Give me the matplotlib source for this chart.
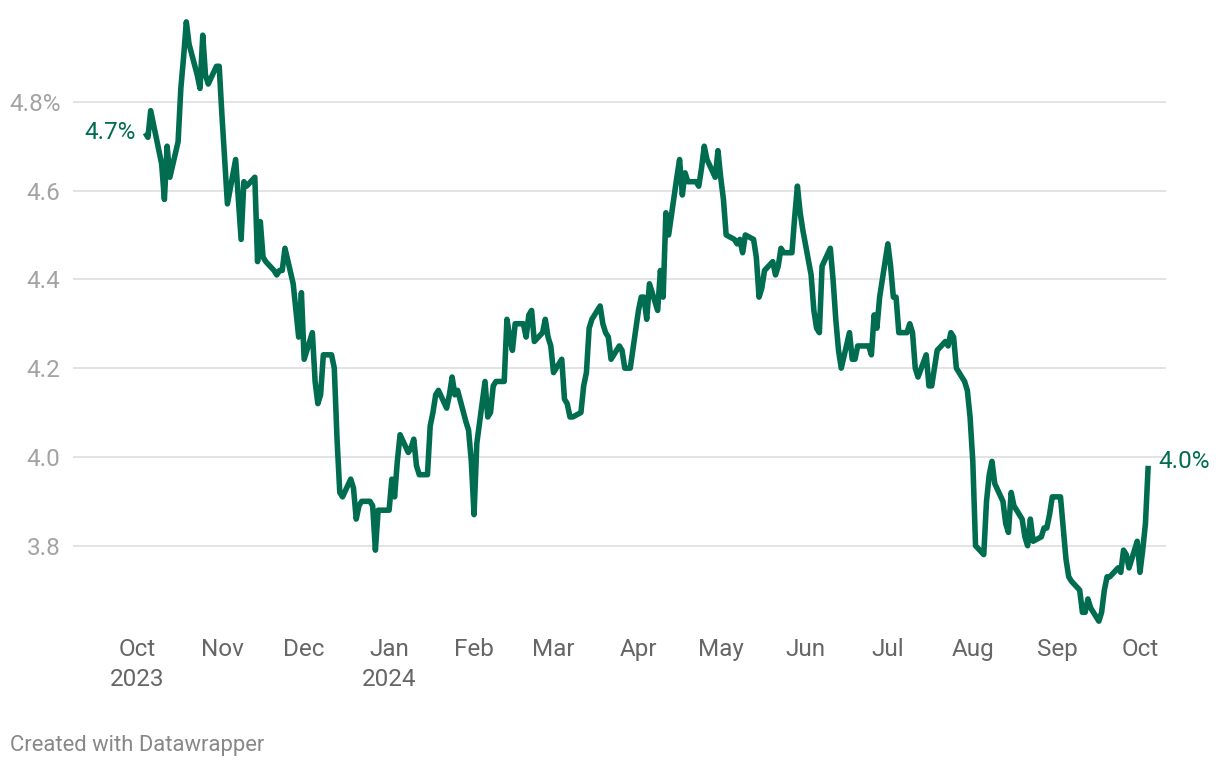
import matplotlib
matplotlib.use("Agg")
import matplotlib.pyplot as plt
import matplotlib.dates as mdates
import pandas as pd

# 10-year yield, weekday closes (holidays carry the prior value)
oct23 = [4.73, 4.72, 4.78, 4.66, 4.58, 4.70, 4.63, 4.71, 4.83, 4.90, 4.98, 4.93,
         4.86, 4.83, 4.95, 4.86, 4.84, 4.88, 4.88]
nov23 = [4.77, 4.67, 4.57, 4.67, 4.58, 4.49, 4.62, 4.61, 4.63, 4.44, 4.53, 4.45,
         4.44, 4.42, 4.41, 4.42, 4.42, 4.47, 4.39, 4.33, 4.27, 4.37]
dec23 = [4.22, 4.28, 4.17, 4.12, 4.14, 4.23, 4.23, 4.20, 4.04, 3.92, 3.91, 3.95,
         3.93, 3.86, 3.89, 3.90, 3.90, 3.89, 3.79, 3.88, 3.88]
jan24 = [3.88, 3.95, 3.91, 3.99, 4.05, 4.01, 4.02, 4.04, 3.98, 3.96, 3.96, 4.07,
         4.10, 4.14, 4.15, 4.11, 4.14, 4.18, 4.14, 4.15, 4.08, 4.06, 3.99]
feb24 = [3.87, 4.03, 4.17, 4.09, 4.10, 4.16, 4.17, 4.17, 4.31, 4.27, 4.24, 4.30,
         4.30, 4.27, 4.32, 4.33, 4.26, 4.28, 4.31, 4.27, 4.25]
mar24 = [4.19, 4.22, 4.13, 4.12, 4.09, 4.09, 4.10, 4.16, 4.19, 4.29, 4.31, 4.34,
         4.30, 4.28, 4.27, 4.22, 4.25, 4.24, 4.20, 4.20, 4.20]
apr24 = [4.33, 4.36, 4.36, 4.31, 4.39, 4.33, 4.42, 4.36, 4.55, 4.50, 4.63, 4.67,
         4.59, 4.64, 4.62, 4.62, 4.61, 4.65, 4.70, 4.67, 4.63, 4.69]
may24 = [4.63, 4.58, 4.50, 4.49, 4.48, 4.49, 4.46, 4.50, 4.49, 4.45, 4.36, 4.38,
         4.42, 4.44, 4.41, 4.43, 4.47, 4.46, 4.46, 4.54, 4.61, 4.55, 4.51]
jun24 = [4.41, 4.33, 4.29, 4.28, 4.43, 4.47, 4.40, 4.31, 4.24, 4.20, 4.28, 4.22,
         4.22, 4.25, 4.25, 4.25, 4.23, 4.32, 4.29, 4.36]
jul24 = [4.48, 4.43, 4.36, 4.36, 4.28, 4.28, 4.30, 4.28, 4.20, 4.18, 4.23, 4.16,
         4.16, 4.20, 4.24, 4.26, 4.25, 4.28, 4.27, 4.20, 4.17, 4.15, 4.09]
aug24 = [3.99, 3.80, 3.78, 3.90, 3.96, 3.99, 3.94, 3.90, 3.85, 3.83, 3.92, 3.89,
         3.86, 3.82, 3.80, 3.86, 3.81, 3.82, 3.84, 3.84, 3.87, 3.91]
sep24 = [3.91, 3.84, 3.77, 3.73, 3.72, 3.70, 3.65, 3.65, 3.68, 3.66, 3.63, 3.65,
         3.70, 3.73, 3.73, 3.75, 3.74, 3.79, 3.78, 3.75, 3.81]
oct24 = [3.74, 3.79, 3.85, 3.98]

values = oct23 + nov23 + dec23 + jan24 + feb24 + mar24 + apr24 + may24 + jun24 + jul24 + aug24 + sep24 + oct24
dates = pd.bdate_range("2023-10-04", "2024-10-04")
dates = dates[dates != pd.Timestamp("2023-10-09")]
assert len(dates) == len(values), (len(dates), len(values))

month_ticks = pd.date_range("2023-10-01", "2024-10-01", freq="MS")
month_labels = ["Oct\n2023", "Nov", "Dec", "Jan\n2024", "Feb", "Mar", "Apr", "May",
                "Jun", "Jul", "Aug", "Sep", "Oct"]
y_ticks = [3.8, 4.0, 4.2, 4.4, 4.6, 4.8]
y_labels = ["3.8", "4.0", "4.2", "4.4", "4.6", "4.8%"]

green = "#006d50"
plt.rcParams['font.family'] = ['Roboto', 'DejaVu Sans']

fig = plt.figure(figsize=(12.2, 7.68), dpi=100)
ax = fig.add_axes([73 / 1220, 1 - 634.5 / 768, (1166 - 73) / 1220, (634.5 - 13) / 768])

ax.plot(dates, values, color=green, lw=4.0, solid_joinstyle="round", solid_capstyle="butt", zorder=3)

t0 = mdates.date2num(pd.Timestamp("2023-10-01"))
ax.set_xlim(t0 - 23.35, t0 + 375.5)
ax.set_ylim(3.6, 5.0)

ax.set_yticks(y_ticks)
ax.set_yticklabels(y_labels)
ax.set_xticks(month_ticks)
ax.set_xticklabels(month_labels, linespacing=1.4)
ax.tick_params(axis="y", length=0, pad=9, labelsize=17.5, labelcolor="#a3a3a3")
ax.tick_params(axis="x", length=0, pad=2.5, labelsize=17.5, labelcolor="#666666")
ax.grid(axis="y", color="#e3e3e3", lw=1.4)
ax.set_axisbelow(True)
for s in ax.spines.values():
    s.set_visible(False)

ax.annotate("4.7%", (dates[0], values[0]), xytext=(-7, 0), textcoords="offset points",
            ha="right", va="center", color=green, fontsize=17.5)
ax.annotate("4.0%", (dates[-1], values[-1]), xytext=(7, 3), textcoords="offset points",
            ha="left", va="center", color=green, fontsize=17.5)

fig.text(10 / 1220, 1 - 745 / 768, "Created with Datawrapper", ha="left", va="center",
         color="#888888", fontsize=15.8)

fig.savefig("out.png", dpi=100)
